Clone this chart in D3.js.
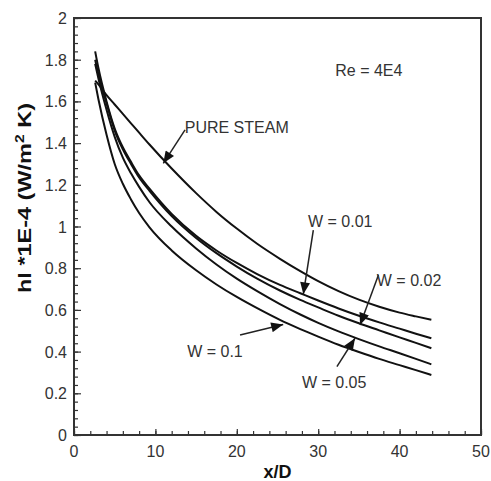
<!DOCTYPE html>
<html>
<head>
<meta charset="utf-8">
<script src="https://cdn.jsdelivr.net/npm/d3@7"></script>
<style>
    body { margin: 0; background: #fff; }
    text { font-family: Arial, "Liberation Sans", sans-serif; fill: #333; }
    .curve { fill: none; stroke: #111; stroke-width: 2; }
    .arrow { stroke: #222; stroke-width: 1.5; }
</style>
</head>
<body>
<svg width="491" height="481"></svg>
<script>
const xD = [2.6, 3, 4, 5, 6, 7, 8, 9.3, 12, 15, 17.5, 20, 22.5, 25.3, 27.8, 30, 32.5, 35, 37.5, 40, 42, 43.9];

const pureSteam = [1.70, 1.682, 1.63, 1.585, 1.54, 1.495, 1.45, 1.392, 1.278, 1.16, 1.07, 0.99, 0.917, 0.845, 0.786, 0.738, 0.69, 0.649, 0.615, 0.587, 0.569, 0.553];
const w001 = [1.84, 1.76, 1.60, 1.47, 1.38, 1.31, 1.245, 1.18, 1.06, 0.955, 0.885, 0.825, 0.772, 0.72, 0.68, 0.645, 0.607, 0.572, 0.54, 0.51, 0.486, 0.464];
const w002 = [1.80, 1.73, 1.59, 1.46, 1.37, 1.30, 1.235, 1.17, 1.05, 0.945, 0.872, 0.808, 0.75, 0.693, 0.648, 0.612, 0.572, 0.536, 0.502, 0.468, 0.442, 0.416];
const w005 = [1.78, 1.71, 1.56, 1.43, 1.33, 1.255, 1.19, 1.115, 1.00, 0.895, 0.818, 0.75, 0.69, 0.628, 0.578, 0.538, 0.497, 0.46, 0.425, 0.392, 0.365, 0.339];
const w01 = [1.69, 1.61, 1.44, 1.30, 1.205, 1.13, 1.065, 0.995, 0.885, 0.79, 0.722, 0.662, 0.608, 0.552, 0.508, 0.472, 0.433, 0.398, 0.365, 0.335, 0.311, 0.288];

const xTicks = [0, 10, 20, 30, 40, 50];
const yTicks = [0, 0.2, 0.4, 0.6, 0.8, 1, 1.2, 1.4, 1.6, 1.8, 2];

// labels: text, x, y (data units), arrow from [x,y] to tip [x,y]
const labelText = ["PURE STEAM", "W = 0.01", "W = 0.02", "W = 0.05", "W = 0.1"];
const labelPos = [[13.6, 1.448], [28.75, 1.0], [37.2, 0.715], [28.0, 0.225], [13.9, 0.374]];
const arrowFrom = [[13.64, 1.463], [29.4, 0.983], [37.4, 0.767], [32.3, 0.328], [20.4, 0.48]];
const arrowTip = [[10.97, 1.303], [28.17, 0.675], [35.14, 0.528], [34.52, 0.464], [25.7, 0.53]];

const svg = d3.select("svg");
const pLeft = 74, pRight = 481, pTop = 18, pBottom = 435;

const x = d3.scaleLinear().domain([0, 50]).range([pLeft, pRight]);
const y = d3.scaleLinear().domain([0, 2]).range([pBottom, pTop]);

// frame
svg.append("rect")
    .attr("x", pLeft).attr("y", pTop)
    .attr("width", pRight - pLeft).attr("height", pBottom - pTop)
    .attr("fill", "none").attr("stroke", "#333").attr("stroke-width", 2);

// minor + major ticks, pointing inward
const xAxis = svg.append("g").attr("transform", "translate(0," + pBottom + ")");
xAxis.call(d3.axisBottom(x).tickValues(d3.range(0, 51, 2)).tickSize(-4).tickFormat(""));
xAxis.append("g").call(d3.axisBottom(x).tickValues(xTicks).tickSize(-6).tickFormat(""));
xAxis.selectAll(".domain").remove();
xAxis.selectAll("line").attr("stroke", "#333").attr("stroke-width", 1.2);

const yAxis = svg.append("g").attr("transform", "translate(" + pLeft + ",0)");
yAxis.call(d3.axisLeft(y).tickValues(d3.range(0, 2.001, 0.04)).tickSize(-4).tickFormat(""));
yAxis.append("g").call(d3.axisLeft(y).tickValues(yTicks).tickSize(-7).tickFormat(""));
yAxis.selectAll(".domain").remove();
yAxis.selectAll("line").attr("stroke", "#333").attr("stroke-width", 1.2);

// tick labels
svg.append("g").selectAll("text").data(xTicks).enter().append("text")
    .attr("x", d => x(d)).attr("y", 457)
    .attr("text-anchor", "middle").attr("font-size", 16)
    .text(d => d);
svg.append("g").selectAll("text").data(yTicks).enter().append("text")
    .attr("x", 67).attr("y", d => y(d) + 6)
    .attr("text-anchor", "end").attr("font-size", 16)
    .text(d => d);

// axis titles
svg.append("text")
    .attr("x", (pLeft + pRight) / 2).attr("y", 478)
    .attr("text-anchor", "middle").attr("font-size", 18).attr("font-weight", "bold")
    .style("fill", "#111")
    .text("x/D");

const yt = svg.append("text")
    .attr("transform", "translate(31,198) rotate(-90)")
    .attr("text-anchor", "middle").attr("font-size", 18).attr("font-weight", "bold")
    .attr("textLength", 190).attr("lengthAdjust", "spacingAndGlyphs")
    .style("fill", "#111");
yt.append("tspan").text("hl *1E-4 (W/m");
yt.append("tspan").attr("dy", -7).attr("font-size", 12).text("2");
yt.append("tspan").attr("dy", 7).text(" K)");

// curves
const line = d3.line()
    .x((d, i) => x(xD[i]))
    .y(d => y(d))
    .curve(d3.curveMonotoneX);

svg.append("g").selectAll("path")
    .data([pureSteam, w001, w002, w005, w01])
    .enter().append("path")
    .attr("class", "curve")
    .attr("d", line);

// annotations
svg.append("text")
    .attr("x", x(32.1)).attr("y", y(1.72))
    .attr("font-size", 16)
    .text("Re = 4E4");

svg.append("defs").append("marker")
    .attr("id", "head")
    .attr("viewBox", "0 0 12 10")
    .attr("refX", 12).attr("refY", 5)
    .attr("markerWidth", 13).attr("markerHeight", 10)
    .attr("markerUnits", "userSpaceOnUse")
    .attr("orient", "auto")
    .append("path")
    .attr("d", "M0,0 L12,5 L0,10 Z")
    .attr("fill", "#111");

svg.append("g").selectAll("line").data(arrowFrom).enter().append("line")
    .attr("class", "arrow")
    .attr("x1", d => x(d[0])).attr("y1", d => y(d[1]))
    .attr("x2", (d, i) => x(arrowTip[i][0])).attr("y2", (d, i) => y(arrowTip[i][1]))
    .attr("marker-end", "url(#head)");

svg.append("g").selectAll("text").data(labelText).enter().append("text")
    .attr("x", (d, i) => x(labelPos[i][0])).attr("y", (d, i) => y(labelPos[i][1]))
    .attr("font-size", 16)
    .text(d => d);
</script>
</body>
</html>
